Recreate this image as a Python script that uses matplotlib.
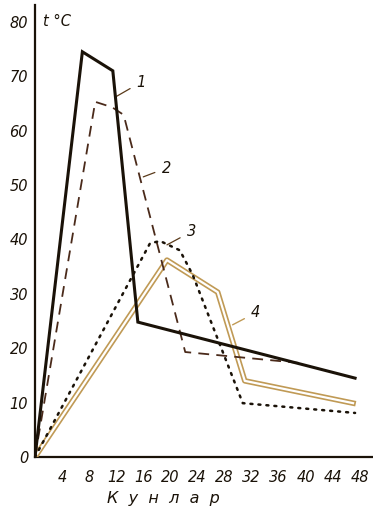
import matplotlib
matplotlib.use("Agg")
import matplotlib.pyplot as plt

# Data (hours vs temperature, °C)
line1_x = [0, 7, 11.5, 15.2, 47.3]
line1_y = [0, 74.5, 71, 24.8, 14.5]
line2_x = [0, 8.9, 11.4, 13.1, 22.2, 39]
line2_y = [0, 65.3, 64.3, 62.9, 19.3, 17.3]
line3_x = [0, 17, 18.5, 21.4, 23.3, 30.7, 47.3]
line3_y = [0, 39.3, 39.7, 38, 33.5, 9.9, 8.1]
line4_x = [0, 19.5, 27, 31, 47]
line4_y = [0, 36.2, 30.3, 14, 9.9]

x_ticks = [4, 8, 12, 16, 20, 24, 28, 32, 36, 40, 44, 48]
y_ticks = [0, 10, 20, 30, 40, 50, 60, 70, 80]
x_label = "К  у  н  л  а  р"
y_unit = "t °C"

W, H = 373, 511
fig = plt.figure(figsize=(W / 100, H / 100), dpi=100)
fig.patch.set_facecolor("white")
ax = fig.add_axes([35 / W, 54 / H, 337 / W, 452 / H])
ax.set_xlim(0, 49.8)
ax.set_ylim(0, 83.1)

tan = "#c09a55"
ink = "#1a1208"

ax.plot(line1_x, line1_y, color=ink, lw=2.2, solid_joinstyle="miter", zorder=5)
ax.plot(line2_x, line2_y, color="#4a2a1a", lw=1.3, dashes=(6, 4), zorder=4)
ax.plot(line3_x, line3_y, color=ink, lw=1.8, linestyle=(0, (0.8, 2.4)),
        dash_capstyle="round", zorder=4)
ax.plot(line4_x, line4_y, color=tan, lw=4.0, zorder=3)
ax.plot(line4_x, line4_y, color="white", lw=1.6, zorder=3.5)

for s in ["top", "right"]:
    ax.spines[s].set_visible(False)
for s in ["left", "bottom"]:
    ax.spines[s].set_color(ink)
    ax.spines[s].set_linewidth(1.6)

ax.set_xticks(x_ticks)
ax.set_xticklabels([str(v) for v in x_ticks])
ax.set_yticks(y_ticks)
ax.set_yticklabels([str(v) for v in y_ticks])
ax.tick_params(length=0, labelsize=10.5, colors=ink)
ax.tick_params(axis="x", pad=9)
ax.tick_params(axis="y", pad=5)
for lab in ax.get_xticklabels() + ax.get_yticklabels():
    lab.set_fontstyle("italic")

ax.set_xlabel(x_label, fontsize=11.5, fontstyle="italic", color=ink, labelpad=4)
ax.xaxis.set_label_coords(18.9 / 49.8, -0.075)
ax.text(1.2, 80, y_unit, fontsize=10.5, fontstyle="italic", color=ink,
        ha="left", va="center")

lab_kw = dict(fontsize=10.5, fontstyle="italic", color=ink, ha="left", va="center")
ax.annotate("1", xy=(11.9, 66.2), xytext=(15.0, 68.9),
            arrowprops=dict(arrowstyle="-", color="#5a3a1a", lw=0.9, shrinkA=3, shrinkB=0), **lab_kw)
ax.annotate("2", xy=(16.0, 51.5), xytext=(18.7, 53.1),
            arrowprops=dict(arrowstyle="-", color="#5a3a1a", lw=0.9, shrinkA=3, shrinkB=0), **lab_kw)
ax.annotate("3", xy=(19.5, 39.0), xytext=(22.4, 41.4),
            arrowprops=dict(arrowstyle="-", color="#5a3a1a", lw=0.9, shrinkA=3, shrinkB=0), **lab_kw)
ax.annotate("4", xy=(29.2, 24.3), xytext=(31.9, 26.5),
            arrowprops=dict(arrowstyle="-", color=tan, lw=1.0, shrinkA=3, shrinkB=0), **lab_kw)

fig.savefig("out.png", dpi=100, facecolor="white")
